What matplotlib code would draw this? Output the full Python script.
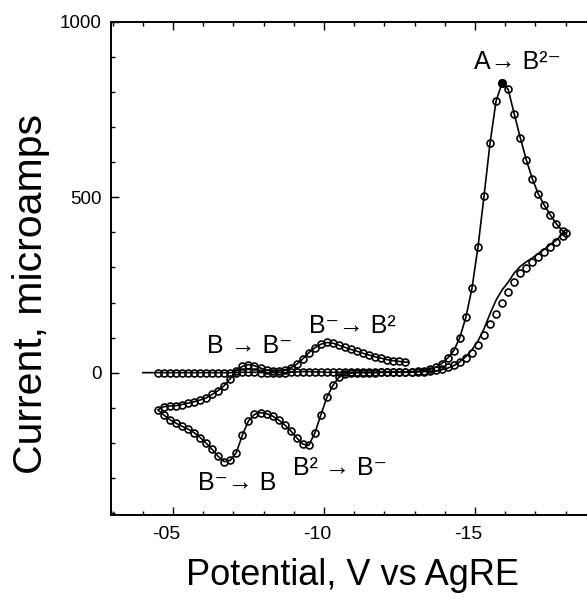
import matplotlib
matplotlib.use("Agg")
import matplotlib.pyplot as plt
from matplotlib.ticker import MultipleLocator, FixedLocator, FixedFormatter
import matplotlib.transforms as mtransforms

plt.rcParams['font.family'] = ['Liberation Sans', 'DejaVu Sans']

# ---- data (potential magnitude in V vs AgRE, current in microamps) ----
scan_V = [0.45, 0.47, 0.49, 0.51, 0.53, 0.55, 0.57, 0.59, 0.61, 0.63,
          0.65, 0.67, 0.69, 0.71, 0.73, 0.75, 0.77, 0.79, 0.81, 0.83,
          0.85, 0.87, 0.89, 0.91, 0.93, 0.95, 0.97, 0.99, 1.01, 1.03,
          1.05, 1.07, 1.09, 1.11, 1.13, 1.15, 1.17, 1.19, 1.21, 1.23,
          1.25, 1.27, 1.29, 1.31, 1.33, 1.35, 1.37, 1.39, 1.41, 1.43,
          1.45, 1.47, 1.49, 1.51, 1.53, 1.55, 1.57, 1.59, 1.61, 1.63,
          1.65, 1.67, 1.69, 1.71, 1.73, 1.75, 1.77, 1.79]

# first forward (cathodic) scan, experimental
fwd1_I = [0, 0, 0, 0, 0, 0, 0, 0, 0, 0,
          0, 0, 0, 0, 1, 1, 1, 0, 0, 0,
          0, 0, 1, 2, 3, 3, 2, 2, 1, 1,
          1, 1, 1, 1, 1, 1, 1, 1, 1, 2,
          2, 2, 3, 4, 6, 9, 15, 26, 42, 63,
          100, 158, 240, 358, 503, 655, 775, 826, 808, 738,
          670, 607, 553, 509, 477, 449, 424, 404]

vertex_V = 1.80
vertex_I = 398

# reverse (anodic) scan, experimental, listed from 1.79 V down to 0.45 V
rev_I = [390, 372, 358, 343, 330, 316, 299, 283, 258, 231,
         199, 168, 138, 107, 79, 57, 42, 31, 22, 15,
         10, 7, 5, 3, 2, 2, 1, 1, 1, 1,
         1, 0, 0, 0, 0, -1, -4, -13, -36, -70,
         -120, -172, -207, -204, -186, -166, -149, -135, -124, -117,
         -114, -119, -138, -178, -228, -250, -254, -239, -219, -201,
         -185, -171, -161, -153, -144, -134, -121, -106]

# reverse scan, simulated, where it departs from the experiment (1.79 .. 1.35 V)
rev_sim_I = [396, 378, 366, 352, 340, 327, 316, 303, 284, 258,
             236, 207, 168, 125, 90, 65, 46, 31, 20, 13,
             8, 5, 4]

# second forward scan, experimental, 0.47 .. 1.27 V
fwd2_I = [-97, -95, -94, -91, -87, -83, -78, -72, -62, -51,
          -37, -17, 6, 18, 23, 20, 13, 8, 5, 5,
          8, 14, 24, 39, 57, 71, 81, 86, 84, 78,
          72, 66, 61, 55, 50, 45, 41, 37, 34, 32, 30]

sim_start_V, sim_start_I = 0.40, 0
sim_end_V, sim_end_I = 1.28, 30

x_ticks = [0.5, 1.0, 1.5]
x_tick_labels = ["-05", "-10", "-15"]
y_ticks = [0, 500, 1000]
y_tick_labels = ["0", "500", "1000"]

# ---- build series ----
rev_V = scan_V[::-1]
fwd2_V = scan_V[1:1 + len(fwd2_I)]
n_sim = len(rev_sim_I)
rev_line_I = rev_sim_I + rev_I[n_sim:]

exp_V = scan_V + [vertex_V] + rev_V + fwd2_V
exp_I = fwd1_I + [vertex_I] + rev_I + fwd2_I
sim_V = [sim_start_V] + scan_V + [vertex_V] + rev_V + fwd2_V + [sim_end_V]
sim_I = [sim_start_I] + fwd1_I + [vertex_I] + rev_line_I + fwd2_I + [sim_end_I]

neg = lambda seq: [-v for v in seq]

fig = plt.figure(figsize=(5.87, 5.98), dpi=100)
ax = fig.add_axes([111 / 587, 1 - 515 / 598, (587 - 111) / 587, (515 - 22) / 598])

ax.plot(neg(sim_V), sim_I, color='black', lw=1.2, zorder=2)
ax.plot(neg(exp_V), exp_I, linestyle='none', marker='o', markersize=5,
        markerfacecolor='none', markeredgecolor='black', markeredgewidth=1.2, zorder=3)
k = fwd1_I.index(max(fwd1_I))
ax.plot([-scan_V[k]], [fwd1_I[k]], marker='o', markersize=5.5, color='black', zorder=4)

ax.set_xlim(-0.295, -1.871)
ax.set_ylim(-406, 1000)

ax.xaxis.set_major_locator(FixedLocator(neg(x_ticks)))
ax.xaxis.set_major_formatter(FixedFormatter(x_tick_labels))
ax.xaxis.set_minor_locator(MultipleLocator(0.1))
ax.yaxis.set_major_locator(FixedLocator(y_ticks))
ax.yaxis.set_major_formatter(FixedFormatter(y_tick_labels))
ax.yaxis.set_minor_locator(MultipleLocator(100))

ax.tick_params(which='both', direction='in', top=True, right=False, width=1.0)
ax.tick_params(which='major', length=6)
ax.tick_params(which='minor', length=3)
ax.tick_params(axis='x', labelsize=14, pad=8)
ax.tick_params(axis='y', labelsize=13.5, pad=7)
for lab in ax.get_xticklabels():
    lab.set_transform(lab.get_transform() + mtransforms.ScaledTranslation(-7 / 100, 0, fig.dpi_scale_trans))

for s in ['left', 'top', 'bottom']:
    ax.spines[s].set_linewidth(1.4)
ax.spines['right'].set_visible(False)

fig.text(31 / 587, 1 - 294 / 598, "Current, microamps", rotation=90,
         ha='center', va='center', fontsize=29.5)
fig.text(353 / 587, 1 - 585 / 598, "Potential, V vs AgRE",
         ha='center', va='baseline', fontsize=26)

fs = 18
ax.text(-1.642, 866, "A\u2192 B\u00b2\u207b", ha='center', va='baseline', fontsize=fs)
ax.text(-0.755, 57, "B \u2192 B\u207b", ha='center', va='baseline', fontsize=fs)
ax.text(-1.093, 114, "B\u207b\u2192 B\u00b2", ha='center', va='baseline', fontsize=fs)
ax.text(-0.712, -334, "B\u207b\u2192 B", ha='center', va='baseline', fontsize=fs)
ax.text(-1.053, -291, "B\u00b2 \u2192 B\u207b", ha='center', va='baseline', fontsize=fs)

fig.savefig("out.png", dpi=100)
